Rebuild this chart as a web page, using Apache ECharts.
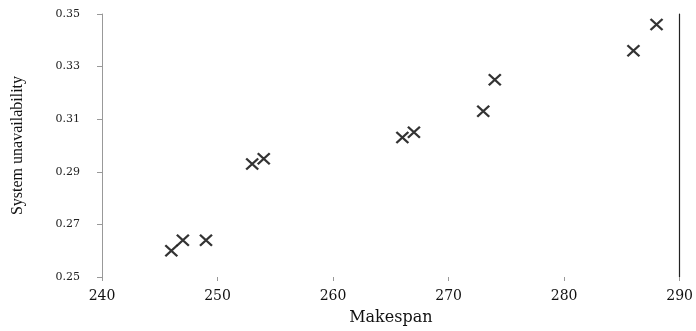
<!DOCTYPE html>
<html>
<head>
<meta charset="utf-8">
<script src="https://cdn.jsdelivr.net/npm/echarts@6/dist/echarts.min.js"></script>
<style>html,body{margin:0;padding:0;background:#fff;}#c{width:696px;height:331px;}</style>
</head>
<body>
<div id="c"></div>
<script>
var makespan = [246, 247, 249, 253, 254, 266, 267, 273, 274, 286, 288];
var unavailability = [0.260, 0.264, 0.264, 0.293, 0.295, 0.303, 0.305, 0.313, 0.325, 0.336, 0.346];
var xTicks = [240, 250, 260, 270, 280, 290];
var yTicks = [0.25, 0.27, 0.29, 0.31, 0.33, 0.35];

var points = makespan.map(function (x, i) { return [x, unavailability[i]]; });

var chart = echarts.init(document.getElementById('c'), null, {renderer: 'canvas'});
chart.setOption({
  animation: false,
  backgroundColor: '#fff',
  grid: {left: 102, right: 13, top: 14, bottom: 52, containLabel: false},
  xAxis: {
    type: 'value',
    min: xTicks[0], max: xTicks[xTicks.length - 1], interval: 10,
    name: 'Makespan', nameLocation: 'middle', nameGap: 33,
    nameTextStyle: {fontFamily: 'DejaVu Serif', fontSize: 16, color: '#111'},
    axisLine: {show: false},
    axisTick: {show: true, length: 4, lineStyle: {color: '#999'}},
    axisLabel: {fontFamily: 'DejaVu Serif', fontSize: 14, color: '#111', margin: 12},
    splitLine: {show: false}
  },
  yAxis: [{
    type: 'value',
    min: yTicks[0], max: yTicks[yTicks.length - 1], interval: 0.02,
    name: 'System unavailability', nameLocation: 'middle', nameGap: 76, nameRotate: 90,
    nameTextStyle: {fontFamily: 'Liberation Serif', fontSize: 16, color: '#111'},
    axisLine: {show: true, lineStyle: {color: '#999', width: 1}},
    axisTick: {show: true, length: 5, lineStyle: {color: '#999'}},
    axisLabel: {fontFamily: 'DejaVu Serif', fontSize: 11, color: '#222', margin: 22,
      formatter: function (v) { return v.toFixed(2); }},
    splitLine: {show: false}
  }, {
    type: 'value', position: 'right',
    min: yTicks[0], max: yTicks[yTicks.length - 1],
    axisLine: {show: true, lineStyle: {color: '#222', width: 1.2}},
    axisTick: {show: false}, axisLabel: {show: false}, splitLine: {show: false}
  }],
  series: [{
    type: 'scatter',
    data: points,
    symbol: 'path://M0,0L12,12M12,0L0,12',
    symbolSize: [12, 11],
    itemStyle: {color: 'rgba(0,0,0,0)', borderColor: '#000', borderWidth: 2.2}
  }]
});
</script>
</body>
</html>
